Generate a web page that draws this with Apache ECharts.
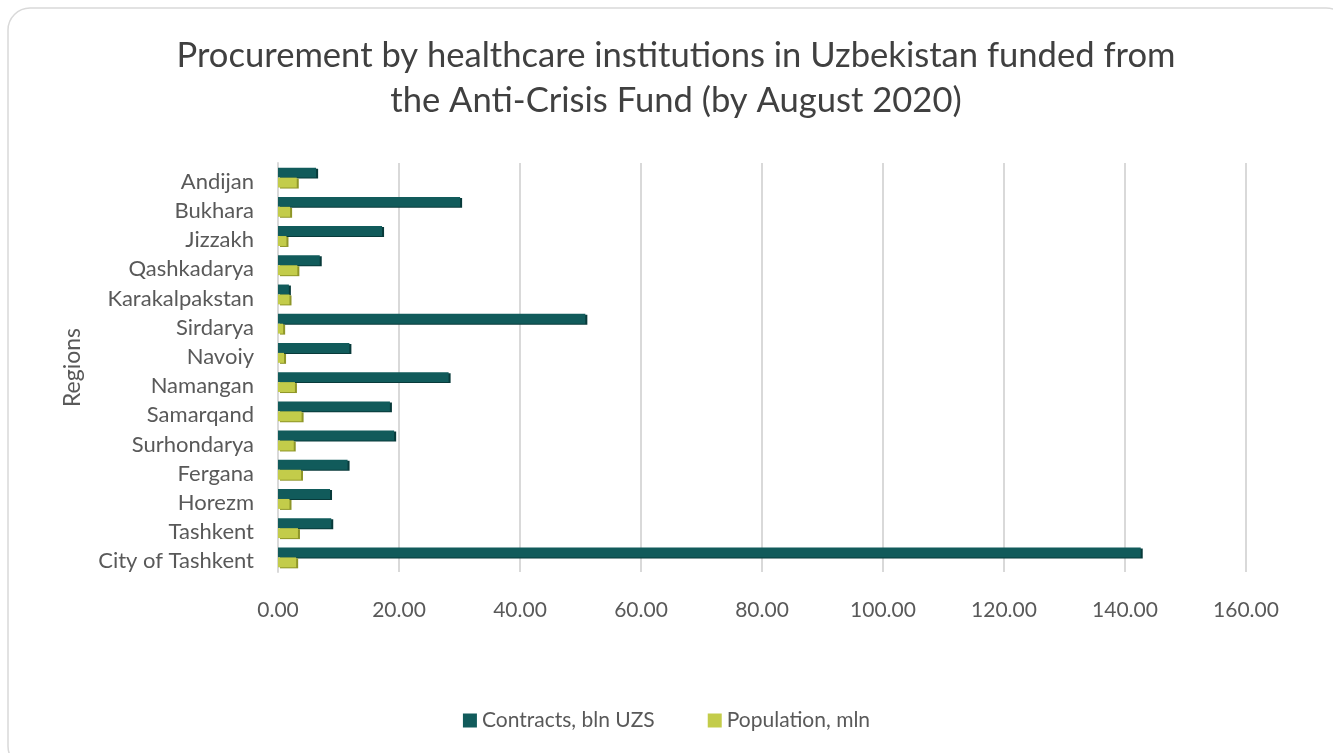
<!DOCTYPE html>
<html><head><meta charset="utf-8">
<script src="https://cdn.jsdelivr.net/npm/echarts@6/dist/echarts.min.js"></script>
<style>html,body{margin:0;padding:0;background:#fff}#c{width:1333px;height:753px}</style>
</head><body><div id="c"></div>
<script>
const regions = ["Andijan","Bukhara","Jizzakh","Qashkadarya","Karakalpakstan","Sirdarya","Navoiy","Namangan","Samarqand","Surhondarya","Fergana","Horezm","Tashkent","City of Tashkent"];
const contracts = [6.3,30.1,17.2,6.9,1.8,50.8,11.8,28.2,18.5,19.2,11.5,8.6,8.8,142.6];
const population = [3.1,2.0,1.4,3.2,1.9,0.85,1.0,2.8,3.9,2.6,3.8,1.9,3.3,3.0];
const xTicks = {min:0,max:160,interval:20};

const chart = echarts.init(document.getElementById('c'));
const font = 'Lato';
chart.setOption({
  animation:false,
  graphic:[{type:'rect',shape:{x:8,y:8,width:1340,height:760,r:22},style:{fill:'#fff',stroke:'#d9d9d9',lineWidth:1.5},z:-10}],
  title:{text:'Procurement by healthcare institutions in Uzbekistan funded from\nthe Anti-Crisis Fund (by August 2020)',left:671,textAlign:'center',top:28,
    textStyle:{fontFamily:font,fontWeight:'normal',fontSize:34.6,color:'#404040',lineHeight:45}},
  legend:{bottom:17,left:'center',itemWidth:14,itemHeight:14,itemGap:53,icon:'rect',
    textStyle:{fontFamily:font,fontSize:21,color:'#595959'}},
  grid:{left:278,right:87,top:163,bottom:181,containLabel:false},
  xAxis:{type:'value',min:xTicks.min,max:xTicks.max,interval:xTicks.interval,
    axisLine:{show:false},axisTick:{show:false},
    axisLabel:{formatter:v=>v.toFixed(2),fontFamily:font,fontSize:21,color:'#595959',margin:28},
    splitLine:{lineStyle:{color:'#d9d9d9',width:2}}},
  yAxis:{type:'category',data:regions,inverse:true,
    name:'Regions',nameLocation:'middle',nameGap:194,nameRotate:90,
    nameTextStyle:{fontFamily:font,fontSize:23,color:'#595959'},
    axisLine:{show:true,lineStyle:{color:'#d9d9d9',width:2}},axisTick:{show:false},
    axisLabel:{margin:24,formatter:v=>'{a|'+v+'}',
      rich:{a:{fontFamily:font,fontSize:22,color:'#595959',padding:[8,0,0,0]}}}},
  series:[
    {name:'Contracts, bln UZS',type:'bar',data:contracts,barGap:'0%',barCategoryGap:'32%',
      itemStyle:{color:'#115b5b',shadowColor:'#083a3a',shadowOffsetX:2,shadowOffsetY:1,shadowBlur:0}},
    {name:'Population, mln',type:'bar',data:population,
      itemStyle:{color:'#c3cc4a',shadowColor:'#8f9628',shadowOffsetX:2,shadowOffsetY:1,shadowBlur:0}}
  ]
});
</script></body></html>
